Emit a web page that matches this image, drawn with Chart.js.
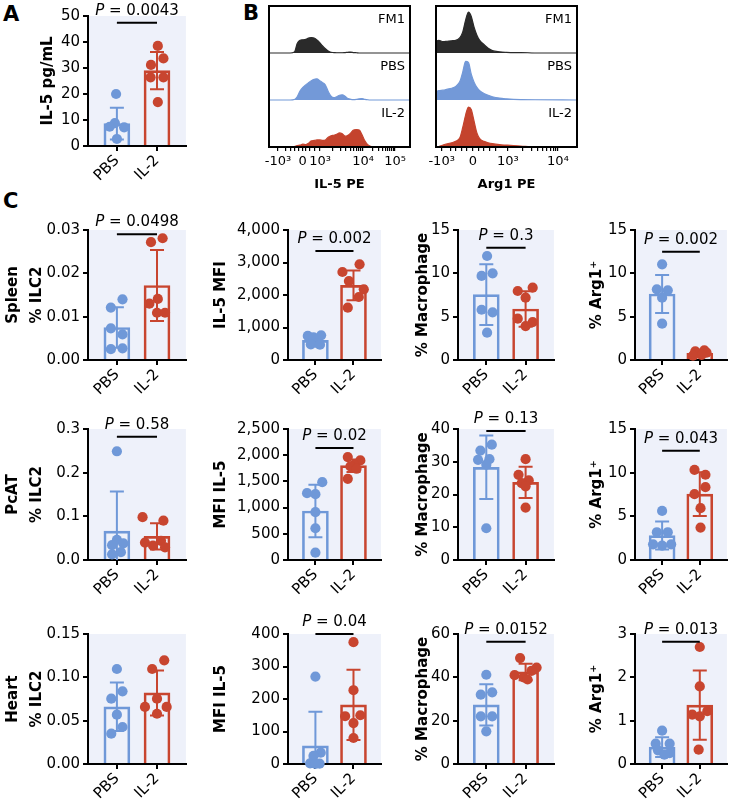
<!DOCTYPE html>
<html>
<head>
<meta charset="utf-8">
<script src="https://cdn.jsdelivr.net/npm/chart.js@4.4.0/dist/chart.umd.min.js"></script>
<style>
  body { margin: 0; background: #fff; }
  #fig { position: relative; width: 732px; height: 807px; overflow: hidden; font-family: "DejaVu Sans", sans-serif; }
  .box { position: absolute; }
  .letter { position: absolute; font-weight: bold; font-size: 21px; color: #000; }
</style>
</head>
<body>
<div id="fig">
  <div class="letter" style="left:3px;top:2px">A</div>
  <div class="letter" style="left:243px;top:1px">B</div>
  <div class="letter" style="left:3px;top:189px">C</div>
</div>
<script>
const FAM = '"DejaVu Sans", sans-serif';
const BLUE = '#6f98d8', RED = '#c8452f', BG = '#eef1fa';
const groups = ['PBS', 'IL-2'];

// ---- panel A: serum IL-5 ----
const aPBS = [20, 8.8, 7.4, 7.2, 2.7];
const aPBSj = [-0.02, -0.05, -0.18, 0.18, 0];
const aIL2 = [38.5, 33.7, 31.2, 26.4, 26.4, 16.9];
const aIL2j = [0.02, 0.16, -0.15, -0.16, 0.16, 0.02];
const aBar = [8.6, 29];
const aSD = [6.1, 7.2];

// ---- panel C, spleen ----
const spIlc2PBS = [0.014, 0.0121, 0.0073, 0.0059, 0.0027, 0.0025];
const spIlc2PBSj = [0.14, -0.15, -0.15, 0.14, 0.14, -0.15];
const spIlc2IL2 = [0.0281, 0.0272, 0.0141, 0.013, 0.0109, 0.0109];
const spIlc2IL2j = [0.14, -0.15, 0.02, -0.19, 0, 0.2];
const spIlc2Bar = [0.0075, 0.0172];
const spIlc2SD = [0.0047, 0.0082];

const spMfiPBS = [760, 740, 700, 520, 480, 470];
const spMfiPBSj = [0.15, -0.2, -0.05, 0.05, -0.12, 0.12];
const spMfiIL2 = [2943, 2708, 2430, 2174, 1938, 1610];
const spMfiIL2j = [0.16, -0.29, -0.12, 0.27, 0.14, -0.15];
const spMfiBar = [605, 2297];
const spMfiSD = [110, 460];

const spMacPBS = [12.0, 10.0, 9.7, 5.8, 5.5, 3.15];
const spMacPBSj = [0.02, 0.16, -0.12, -0.12, 0.16, 0.02];
const spMacIL2 = [8.35, 7.96, 7.19, 4.77, 4.38, 3.92];
const spMacIL2j = [0.18, -0.2, 0, -0.2, 0.18, 0];
const spMacBar = [7.54, 5.88];
const spMacSD = [3.5, 2.05];

const spArgPBS = [11.04, 8.15, 8.04, 7.19, 4.19];
const spArgPBSj = [0, -0.14, 0.15, 0, 0];
const spArgIL2 = [1.1, 1.0, 0.85, 0.75, 0.6, 0.5];
const spArgIL2j = [0.12, -0.12, 0.18, -0.05, 0.05, -0.18];
const spArgBar = [7.62, 0.78];
const spArgSD = [2.2, 0.22];

// ---- panel C, PcAT ----
const pcIlc2PBS = [0.249, 0.046, 0.038, 0.034, 0.018, 0.013];
const pcIlc2PBSj = [0, 0, 0.16, -0.12, 0.1, -0.12];
const pcIlc2IL2 = [0.098, 0.09, 0.044, 0.04, 0.033, 0.029];
const pcIlc2IL2j = [-0.36, 0.16, 0.1, -0.3, -0.1, 0.2];
const pcIlc2Bar = [0.066, 0.054];
const pcIlc2SD = [0.091, 0.03];

const pcMfiPBS = [1486, 1276, 1256, 912, 606, 140];
const pcMfiPBSj = [0.18, -0.22, 0, 0, 0, 0];
const pcMfiIL2 = [1964, 1901, 1818, 1786, 1741, 1550];
const pcMfiIL2j = [-0.15, 0.18, 0.02, -0.08, 0.08, -0.15];
const pcMfiBar = [935, 1800];
const pcMfiSD = [500, 120];

const pcMacPBS = [35.2, 33.4, 30.8, 30.6, 29.1, 9.7];
const pcMacPBSj = [0.14, -0.15, 0.08, -0.21, 0, 0];
const pcMacIL2 = [30.8, 26.0, 24.3, 23.5, 22.5, 16.0];
const pcMacIL2j = [0, -0.18, 0.08, -0.1, 0, 0];
const pcMacBar = [28.3, 23.7];
const pcMacSD = [9.7, 4.8];

const pcArgPBS = [5.62, 3.18, 3.18, 1.8, 1.8, 1.65];
const pcArgPBSj = [0, -0.14, 0.15, -0.24, 0.24, 0];
const pcArgIL2 = [10.33, 9.76, 8.34, 7.54, 5.93, 3.71];
const pcArgIL2j = [-0.14, 0.15, 0.15, -0.14, 0.02, 0.02];
const pcArgBar = [2.8, 7.55];
const pcArgSD = [1.6, 2.5];

// ---- panel C, heart ----
const htIlc2PBS = [0.1096, 0.0838, 0.0754, 0.0569, 0.0427, 0.035];
const htIlc2PBSj = [0, 0.14, -0.14, 0, 0.14, -0.14];
const htIlc2IL2 = [0.1196, 0.1096, 0.0754, 0.0658, 0.0658, 0.058];
const htIlc2IL2j = [0.18, -0.12, 0, -0.3, 0.24, 0];
const htIlc2Bar = [0.066, 0.082];
const htIlc2SD = [0.028, 0.026];

const htMfiPBS = [269, 35, 25, 2, 1, 0];
const htMfiPBSj = [0, 0.14, -0.05, -0.14, 0.11, 0];
const htMfiIL2 = [375, 227, 150, 147, 126, 80];
const htMfiIL2j = [0, 0, 0.18, -0.22, 0, 0];
const htMfiBar = [56, 182];
const htMfiSD = [105, 108];

const htMacPBS = [41.2, 33.1, 32, 22, 22, 15.1];
const htMacPBSj = [0, 0.15, -0.14, -0.14, 0.15, 0];
const htMacIL2 = [48.9, 44.5, 43, 41, 40, 39];
const htMacIL2j = [-0.14, 0.28, 0.15, -0.28, -0.05, 0.05];
const htMacBar = [27.3, 42.5];
const htMacSD = [9.5, 3.8];

const htArgPBS = [0.77, 0.47, 0.47, 0.315, 0.25, 0.215];
const htArgPBSj = [0, -0.17, 0.2, -0.11, 0.2, 0.06];
const htArgIL2 = [2.7, 1.79, 1.22, 1.14, 1.1, 0.33];
const htArgIL2j = [0, 0, 0.2, -0.2, 0, -0.03];
const htArgBar = [0.39, 1.36];
const htArgSD = [0.23, 0.8];

// ---- panel B: histograms (x in display units 0-100 across the plot) ----
const il5X   = [0, 15, 18, 20, 22, 24, 26, 28, 30, 32, 34, 36, 38, 40, 42, 44, 46, 48, 50, 52, 54, 56, 58, 60, 62, 64, 66, 68, 70, 72, 75, 80, 100];
const il5FM1 = [0, 0, 0.02, 0.2, 0.27, 0.28, 0.29, 0.32, 0.33, 0.32, 0.28, 0.22, 0.15, 0.09, 0.04, 0.015, 0.01, 0.005, 0.005, 0.005, 0.01, 0.015, 0.02, 0.01, 0.005, 0, 0, 0, 0, 0, 0, 0, 0];
const il5PBS = [0, 0, 0.01, 0.07, 0.19, 0.27, 0.32, 0.37, 0.41, 0.44, 0.45, 0.41, 0.37, 0.32, 0.18, 0.08, 0.05, 0.07, 0.1, 0.11, 0.08, 0.03, 0.015, 0.01, 0.015, 0.025, 0.03, 0.015, 0.005, 0, 0, 0, 0];
const il5IL2 = [0, 0, 0.01, 0.03, 0.04, 0.06, 0.05, 0.08, 0.13, 0.14, 0.15, 0.15, 0.14, 0.15, 0.21, 0.24, 0.25, 0.27, 0.3, 0.28, 0.23, 0.25, 0.3, 0.36, 0.37, 0.36, 0.26, 0.13, 0.05, 0.015, 0, 0, 0];
const il5TickPos = [6.4, 23.9, 36.2, 66.7, 89.4];
const il5TickLbl = ['-10³', '0', '10³', '10⁴', '10⁵'];

const argX   = [0, 2, 5, 8, 11, 14, 17, 19, 21, 23, 25, 27, 29, 31, 34, 37, 40, 45, 50, 55, 60, 70, 100];
const argFM1 = [0.25, 0.27, 0.24, 0.25, 0.26, 0.27, 0.33, 0.45, 0.7, 0.87, 0.78, 0.55, 0.38, 0.27, 0.18, 0.1, 0.05, 0.025, 0.015, 0.01, 0.01, 0, 0];
const argPBS = [0.18, 0.2, 0.21, 0.23, 0.25, 0.29, 0.4, 0.6, 0.82, 0.8, 0.55, 0.38, 0.27, 0.2, 0.14, 0.1, 0.07, 0.04, 0.025, 0.015, 0.01, 0.005, 0];
const argIL2 = [0, 0.01, 0.04, 0.07, 0.09, 0.12, 0.2, 0.42, 0.68, 0.85, 0.8, 0.55, 0.3, 0.18, 0.12, 0.09, 0.07, 0.05, 0.04, 0.03, 0.02, 0, 0];
const argTickPos = [4, 26.2, 51, 86.5];
const argTickLbl = ['-10³', '0', '10³', '10⁴'];

const histNames = ['FM1', 'PBS', 'IL-2'];
const histColors = ['#2a2a2a', '#7399d8', '#c4432d'];

const fig = document.getElementById('fig');
Chart.defaults.font.family = FAM;
Chart.defaults.color = '#000';

function host(left, top, width, height) {
  const d = document.createElement('div');
  d.className = 'box';
  d.style.cssText = `left:${left}px;top:${top}px;width:${width}px;height:${height}px`;
  const cv = document.createElement('canvas');
  d.appendChild(cv);
  fig.appendChild(d);
  return cv;
}

function drawP(ctx, cx, cy, p) {
  const rest = ' = ' + p;
  ctx.font = `italic 15px ${FAM}`;
  const w1 = ctx.measureText('P').width;
  ctx.font = `15px ${FAM}`;
  const w2 = ctx.measureText(rest).width;
  const x0 = cx - (w1 + w2) / 2;
  ctx.fillStyle = '#000';
  ctx.textBaseline = 'middle';
  ctx.textAlign = 'left';
  ctx.font = `italic 15px ${FAM}`;
  ctx.fillText('P', x0, cy);
  ctx.font = `15px ${FAM}`;
  ctx.fillText(rest, x0 + w1, cy);
}

function makeBar(o) {
  const [L, T, R, B] = o.area;
  const padTop = 26, xH = 38;
  const top = T - padTop;
  const cv = host(o.left, top, R - o.left + 1, B - top + xH);
  const yW = L - o.left;
  const step = o.max / o.n;
  const fmt = v => o.comma ? Math.round(v).toLocaleString('en-US') : v.toFixed(o.dec);
  const lh = Array.isArray(o.title) ? 1.6 : 1.2;
  const pad = o.titleX - o.left - 15 * lh / 2;

  const deco = {
    id: 'deco',
    beforeDraw(chart) {
      const { ctx, chartArea: a } = chart;
      ctx.save();
      ctx.fillStyle = BG;
      ctx.fillRect(a.left, a.top, a.right - a.left, a.bottom - a.top);
      ctx.restore();
    },
    afterDatasetDraw(chart, args) {
      if (args.meta.type !== 'bar') return;
      const { ctx, chartArea: a, scales: { x, y } } = chart;
      ctx.save();
      ctx.beginPath();
      ctx.rect(a.left, a.top - 20, a.right - a.left, a.bottom - a.top + 20);
      ctx.clip();
      ctx.lineWidth = 2;
      [0, 1].forEach(i => {
        const px = x.getPixelForValue(i);
        const hi = y.getPixelForValue(o.bar[i] + o.sd[i]);
        const lo = y.getPixelForValue(o.bar[i] - o.sd[i]);
        ctx.strokeStyle = i ? RED : BLUE;
        ctx.beginPath();
        ctx.moveTo(px, lo); ctx.lineTo(px, hi);
        ctx.moveTo(px - 7, hi); ctx.lineTo(px + 7, hi);
        ctx.moveTo(px - 7, lo); ctx.lineTo(px + 7, lo);
        ctx.stroke();
      });
      ctx.restore();
    },
    afterDraw(chart) {
      if (!o.p) return;
      const { ctx, scales: { x, y } } = chart;
      const x0 = x.getPixelForValue(0), x1 = x.getPixelForValue(1);
      const py = y.getPixelForValue(o.sig);
      ctx.save();
      ctx.strokeStyle = '#000';
      ctx.lineWidth = 2;
      ctx.beginPath();
      ctx.moveTo(x0, py); ctx.lineTo(x1, py);
      ctx.stroke();
      drawP(ctx, (x0 + x1) / 2, py - 12, o.p);
      ctx.restore();
    }
  };

  new Chart(cv, {
    type: 'scatter',
    data: {
      datasets: [
        { type: 'scatter', order: 0, clip: false,
          data: o.pbs.map((v, i) => ({ x: o.pbsJ[i], y: v })),
          backgroundColor: BLUE, borderWidth: 0, pointRadius: 5.1 },
        { type: 'scatter', order: 0, clip: false,
          data: o.il2.map((v, i) => ({ x: 1 + o.il2J[i], y: v })),
          backgroundColor: RED, borderWidth: 0, pointRadius: 5.1 },
        { type: 'bar', order: 1,
          data: o.bar.map((v, i) => ({ x: i, y: v })),
          backgroundColor: 'rgba(0,0,0,0)', borderColor: [BLUE, RED],
          borderWidth: 2, barThickness: 26 }
      ]
    },
    options: {
      animation: false, responsive: true, maintainAspectRatio: false, events: [],
      layout: { padding: { left: 0, top: padTop, right: 1, bottom: 0 } },
      plugins: { legend: { display: false }, tooltip: { enabled: false } },
      scales: {
        x: {
          type: 'linear', min: -0.72, max: 1.72, offset: false,
          afterBuildTicks: s => { s.ticks = [{ value: 0 }, { value: 1 }]; },
          afterFit: s => { s.height = xH; },
          ticks: { callback: v => groups[v], minRotation: 45, maxRotation: 45, autoSkip: false,
                   font: { size: 15 }, color: '#000', padding: 1 },
          grid: { drawOnChartArea: false, tickLength: 5, color: '#000', lineWidth: 2, offset: false },
          border: { display: true, color: '#000', width: 2 }
        },
        y: {
          min: 0, max: o.max,
          afterBuildTicks: s => { s.ticks = Array.from({ length: o.n + 1 }, (_, i) => ({ value: i * step })); },
          afterFit: s => { s.width = yW; },
          ticks: { callback: v => fmt(v), font: { size: 15 }, color: '#000', padding: 3 },
          grid: { drawOnChartArea: false, tickLength: 5, color: '#000', lineWidth: 2 },
          border: { display: true, color: '#000', width: 2 },
          title: { display: true, text: o.title, color: '#000',
                   font: { size: 15, weight: 'bold', lineHeight: lh },
                   padding: { top: pad, bottom: 0 } }
        }
      }
    },
    plugins: [deco]
  });
}

function makeHist(o) {
  const hostL = o.area[0] - 14, hostT = 0, hostR = o.area[2] + 6;
  const cv = host(hostL, hostT, hostR - hostL, 196);
  const minor = o.minor;
  const deco = {
    id: 'hdeco',
    afterDraw(chart) {
      const { ctx, chartArea: a, scales: { y } } = chart;
      ctx.save();
      ctx.strokeStyle = '#000';
      ctx.lineWidth = 2;
      ctx.strokeRect(a.left, a.top, a.right - a.left, a.bottom - a.top);
      ctx.fillStyle = '#000';
      ctx.font = `13px ${FAM}`;
      ctx.textAlign = 'right';
      ctx.textBaseline = 'middle';
      histNames.forEach((n, k) => ctx.fillText(n, a.right - 5, y.getPixelForValue(2 - k + 0.7)));
      ctx.restore();
    }
  };
  new Chart(cv, {
    type: 'line',
    data: {
      datasets: o.series.map((s, k) => {
        const base = 2 - k;
        return {
          data: o.xs.map((x, i) => ({ x, y: base + s[i] })),
          fill: { value: base },
          borderColor: histColors[k], backgroundColor: histColors[k],
          borderWidth: 1.2, pointRadius: 0, cubicInterpolationMode: 'monotone'
        };
      })
    },
    options: {
      animation: false, responsive: true, maintainAspectRatio: false, events: [],
      layout: { padding: { left: o.area[0] - hostL, top: o.area[1] - hostT, right: hostR - o.area[2], bottom: 0 } },
      plugins: { legend: { display: false }, tooltip: { enabled: false } },
      scales: {
        x: {
          type: 'linear', min: 0, max: 100,
          afterBuildTicks: s => {
            s.ticks = o.tickPos.map(v => ({ value: v })).concat(minor.map(v => ({ value: v })));
          },
          afterFit: s => { s.height = 196 - o.area[3]; },
          ticks: {
            autoSkip: false, maxRotation: 0, minRotation: 0, font: { size: 13 }, color: '#000', padding: 3,
            callback: v => { const i = o.tickPos.indexOf(v); return i >= 0 ? o.tickLbl[i] : ''; }
          },
          grid: { drawOnChartArea: false, tickLength: 4, color: '#000', lineWidth: 1.2 },
          border: { display: true, color: '#000', width: 2 },
          title: { display: true, text: o.title, color: '#000', font: { size: 13, weight: 'bold' }, padding: { top: 2 } }
        },
        y: { display: false, min: 0, max: 3 }
      }
    },
    plugins: [deco]
  });
}

// minor tick marks between decades (axis decoration)
function decadeMinors(a, b) {
  const out = [];
  for (let k = 2; k <= 9; k++) out.push(a + (b - a) * Math.log10(k));
  return out;
}

makeHist({ area: [269, 6, 410, 147], xs: il5X, series: [il5FM1, il5PBS, il5IL2],
  tickPos: il5TickPos, tickLbl: il5TickLbl, title: 'IL-5 PE',
  minor: [12, 15, 18, 21, 26, 29, 32].concat(decadeMinors(36.2, 66.7), decadeMinors(66.7, 89.4)) });
makeHist({ area: [436, 6, 577, 147], xs: argX, series: [argFM1, argPBS, argIL2],
  tickPos: argTickPos, tickLbl: argTickLbl, title: 'Arg1 PE',
  minor: [10, 14, 18, 22, 30, 34, 38, 42].concat(decadeMinors(51, 86.5)) });

makeBar({ left: 0, area: [88, 16, 190, 146], titleX: 48, title: 'IL-5 pg/mL', max: 50, n: 5, dec: 0,
  pbs: aPBS, pbsJ: aPBSj, il2: aIL2, il2J: aIL2j, bar: aBar, sd: aSD, sig: 47.4, p: '0.0043' });

const colLeft = [0, 200, 395, 570];
const colL = [88, 288, 458, 635];
const colR = [190, 385, 558, 731];
const colTitleX = [13, 221, 423, 597];
const rowTB = [[230, 360], [429, 560], [634, 764]];

function cell(r, c, opt) {
  makeBar(Object.assign({ left: colLeft[c], area: [colL[c], rowTB[r][0], colR[c], rowTB[r][1]],
    titleX: colTitleX[c] }, opt));
}

cell(0, 0, { title: ['Spleen', '% ILC2'], max: 0.03, n: 3, dec: 2, pbs: spIlc2PBS, pbsJ: spIlc2PBSj, il2: spIlc2IL2, il2J: spIlc2IL2j, bar: spIlc2Bar, sd: spIlc2SD, sig: 0.029, p: '0.0498' });
cell(0, 1, { title: 'IL-5 MFI', max: 4000, n: 4, comma: true, pbs: spMfiPBS, pbsJ: spMfiPBSj, il2: spMfiIL2, il2J: spMfiIL2j, bar: spMfiBar, sd: spMfiSD, sig: 3354, p: '0.002' });
cell(0, 2, { title: '% Macrophage', max: 15, n: 3, dec: 0, pbs: spMacPBS, pbsJ: spMacPBSj, il2: spMacIL2, il2J: spMacIL2j, bar: spMacBar, sd: spMacSD, sig: 12.96, p: '0.3' });
cell(0, 3, { title: '% Arg1⁺', max: 15, n: 3, dec: 0, pbs: spArgPBS, pbsJ: spArgPBSj, il2: spArgIL2, il2J: spArgIL2j, bar: spArgBar, sd: spArgSD, sig: 12.5, p: '0.002' });

cell(1, 0, { title: ['PcAT', '% ILC2'], max: 0.3, n: 3, dec: 1, pbs: pcIlc2PBS, pbsJ: pcIlc2PBSj, il2: pcIlc2IL2, il2J: pcIlc2IL2j, bar: pcIlc2Bar, sd: pcIlc2SD, sig: 0.282, p: '0.58' });
cell(1, 1, { title: 'MFI IL-5', max: 2500, n: 5, comma: true, pbs: pcMfiPBS, pbsJ: pcMfiPBSj, il2: pcMfiIL2, il2J: pcMfiIL2j, bar: pcMfiBar, sd: pcMfiSD, sig: 2137, p: '0.02' });
cell(1, 2, { title: '% Macrophage', max: 40, n: 4, dec: 0, pbs: pcMacPBS, pbsJ: pcMacPBSj, il2: pcMacIL2, il2J: pcMacIL2j, bar: pcMacBar, sd: pcMacSD, sig: 39.4, p: '0.13' });
cell(1, 3, { title: '% Arg1⁺', max: 15, n: 3, dec: 0, pbs: pcArgPBS, pbsJ: pcArgPBSj, il2: pcArgIL2, il2J: pcArgIL2j, bar: pcArgBar, sd: pcArgSD, sig: 12.5, p: '0.043' });

cell(2, 0, { title: ['Heart', '% ILC2'], max: 0.15, n: 3, dec: 2, pbs: htIlc2PBS, pbsJ: htIlc2PBSj, il2: htIlc2IL2, il2J: htIlc2IL2j, bar: htIlc2Bar, sd: htIlc2SD });
cell(2, 1, { title: 'MFI IL-5', max: 400, n: 4, dec: 0, pbs: htMfiPBS, pbsJ: htMfiPBSj, il2: htMfiIL2, il2J: htMfiIL2j, bar: htMfiBar, sd: htMfiSD, sig: 400, p: '0.04' });
cell(2, 2, { title: '% Macrophage', max: 60, n: 3, dec: 0, pbs: htMacPBS, pbsJ: htMacPBSj, il2: htMacIL2, il2J: htMacIL2j, bar: htMacBar, sd: htMacSD, sig: 56.4, p: '0.0152' });
cell(2, 3, { title: '% Arg1⁺', max: 3, n: 3, dec: 0, pbs: htArgPBS, pbsJ: htArgPBSj, il2: htArgIL2, il2J: htArgIL2j, bar: htArgBar, sd: htArgSD, sig: 2.82, p: '0.013' });
</script>
</body>
</html>
